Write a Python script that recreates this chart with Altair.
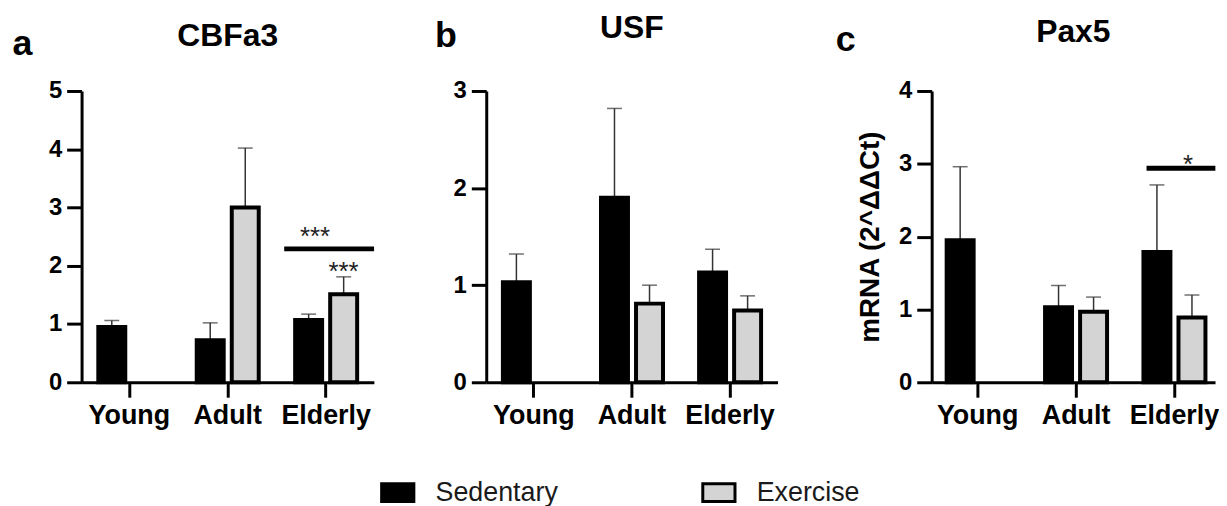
import altair as alt
import pandas as pd

groups = ["Young", "Adult", "Elderly"]
treatments = ["Sedentary", "Exercise"]

# CBFa3
cbfa3_sed_mean = [0.95, 0.72, 1.07]
cbfa3_sed_top = [1.06, 1.02, 1.17]
cbfa3_ex_mean = [None, 3.00, 1.51]
cbfa3_ex_top = [None, 4.02, 1.81]

# USF
usf_sed_mean = [1.03, 1.90, 1.13]
usf_sed_top = [1.32, 2.82, 1.37]
usf_ex_mean = [None, 0.81, 0.74]
usf_ex_top = [None, 1.00, 0.89]

# Pax5
pax5_sed_mean = [1.95, 1.03, 1.79]
pax5_sed_top = [2.96, 1.33, 2.71]
pax5_ex_mean = [None, 0.97, 0.89]
pax5_ex_top = [None, 1.17, 1.20]

FONT = "Liberation Sans"


def long_df(sm, st, em, et):
    rows = []
    for i, g in enumerate(groups):
        if sm[i] is not None:
            rows.append({"group": g, "treatment": "Sedentary", "mean": sm[i], "upper": st[i]})
        if em[i] is not None:
            rows.append({"group": g, "treatment": "Exercise", "mean": em[i], "upper": et[i]})
    return pd.DataFrame(rows)


def panel(df, ymax, title, letter, letter_x, letter_y, width, xscale, ytitle=None,
          sig=None, stars=None, title_dy=28):
    x_axis = alt.Axis(
        title=letter, titleX=letter_x, titleY=letter_y, titleAngle=0,
        titleAlign="left", titleBaseline="alphabetic", titleFontSize=36,
        titleFontWeight="bold", titleFont=FONT, titleColor="black",
        labelAngle=0, labelFontSize=27, labelFontWeight="bold", labelFont=FONT,
        labelColor="black", labelPadding=5, tickSize=15, tickWidth=3,
        tickColor="black", domainColor="black", domainWidth=3,
    )
    yaxis_kw = dict(
        values=list(range(ymax + 1)), format="d", grid=False, labelFontSize=24,
        labelFontWeight="bold", labelFont=FONT, labelColor="black",
        labelPadding=5, tickSize=15, tickWidth=3, tickColor="black",
        domainColor="black", domainWidth=3,
    )
    if ytitle:
        yaxis_kw.update(title=ytitle, titleFontSize=28, titleFont=FONT,
                        titleFontWeight="bold", titleColor="black", titlePadding=14)
    else:
        yaxis_kw.update(title=None)
    X = alt.X("group:N", sort=groups, scale=xscale, axis=x_axis)
    XO = alt.XOffset("treatment:N", sort=treatments,
                     scale=alt.Scale(domain=treatments, paddingInner=0.23, paddingOuter=0))
    Y = alt.Y("mean:Q", scale=alt.Scale(domain=[0, ymax], nice=False), axis=alt.Axis(**yaxis_kw))

    base = alt.Chart(df)
    bars = base.mark_bar(stroke="black", strokeWidth=4).encode(
        x=X, xOffset=XO, y=Y,
        fill=alt.Fill("treatment:N", sort=treatments,
                      scale=alt.Scale(domain=treatments, range=["black", "#d4d4d4"]),
                      legend=alt.Legend(
                          title=None, orient="none", legendX=300, legendY=386,
                          direction="horizontal",
                          symbolType="M-1,-0.55H1V0.55H-1Z", symbolSize=1050,
                          symbolStrokeColor="black", symbolStrokeWidth=3,
                          labelFontSize=27, labelFont=FONT, labelColor="#1a1a1a",
                          labelOffset=20, columnPadding=138, padding=0,
                          symbolOpacity=1,
                      )),
    )
    err = base.mark_rule(color="#333333", strokeWidth=1.5).encode(
        x=X, xOffset=XO, y="mean:Q", y2="upper:Q")
    cap = base.mark_tick(color="#333333", thickness=1.5, size=15).encode(
        x=X, xOffset=XO, y="upper:Q")
    layers = [err, cap, bars]
    if sig is not None:
        sdf = pd.DataFrame([{"group": sig[0], "y": sig[1]}])
        layers.append(alt.Chart(sdf).mark_rule(
            color="black", strokeWidth=5, xOffset=sig[4], x2Offset=sig[5]
        ).encode(
            x=alt.X("group:N", bandPosition=sig[2]),
            x2=alt.X2("group:N", bandPosition=sig[3]),
            y="y:Q"))
    if stars is not None:
        for s in stars:
            tdf = pd.DataFrame([{"group": s[0], "y": s[1], "label": s[3]}])
            layers.append(alt.Chart(tdf).mark_text(
                fontSize=26, font=FONT, color="#222222", baseline="alphabetic", align="center"
            ).encode(x=alt.X("group:N", bandPosition=s[2]), y="y:Q", text="label:N"))
    return alt.layer(*layers).properties(
        width=width, height=293,
        title=alt.TitleParams(title, fontSize=32, font=FONT, fontWeight="bold",
                              color="black", anchor="middle", offset=0, dy=title_dy),
    )


xs_ab = alt.Scale(domain=groups, paddingInner=0.37, paddingOuter=0.17)
xs_c = alt.Scale(domain=groups, paddingInner=0.37, paddingOuter=0.125, align=0.61)

pa = panel(long_df(cbfa3_sed_mean, cbfa3_sed_top, cbfa3_ex_mean, cbfa3_ex_top), 5,
           "CBFa3", "a", -70, -330, 294, xs_ab,
           sig=("Elderly", 2.29, 0.0, 1.0, -11, 17),
           stars=[("Elderly", 2.35, 0.32, "***"), ("Elderly", 1.75, 0.78, "***")])
pb = panel(long_df(usf_sed_mean, usf_sed_top, usf_ex_mean, usf_ex_top), 3,
           "USF", "b", -52, -338, 293, xs_ab)
pc = panel(long_df(pax5_sed_mean, pax5_sed_top, pax5_ex_mean, pax5_ex_top), 4,
           "Pax5", "c", -97, -334, 285, xs_c, ytitle="mRNA (2^ΔΔCt)",
           sig=("Elderly", 2.94, 0.05, 1.0, 0, 10),
           stars=[("Elderly", 2.87, 0.72, "*")])

chart = alt.hconcat(pa, pb, pc, spacing=58).properties(
    padding={"left": 4, "top": 3, "right": 0, "bottom": 0},
    background="white",
).configure_view(strokeWidth=0, stroke="transparent")

chart.save("out.html", embed_options={"renderer": "svg", "actions": False})
